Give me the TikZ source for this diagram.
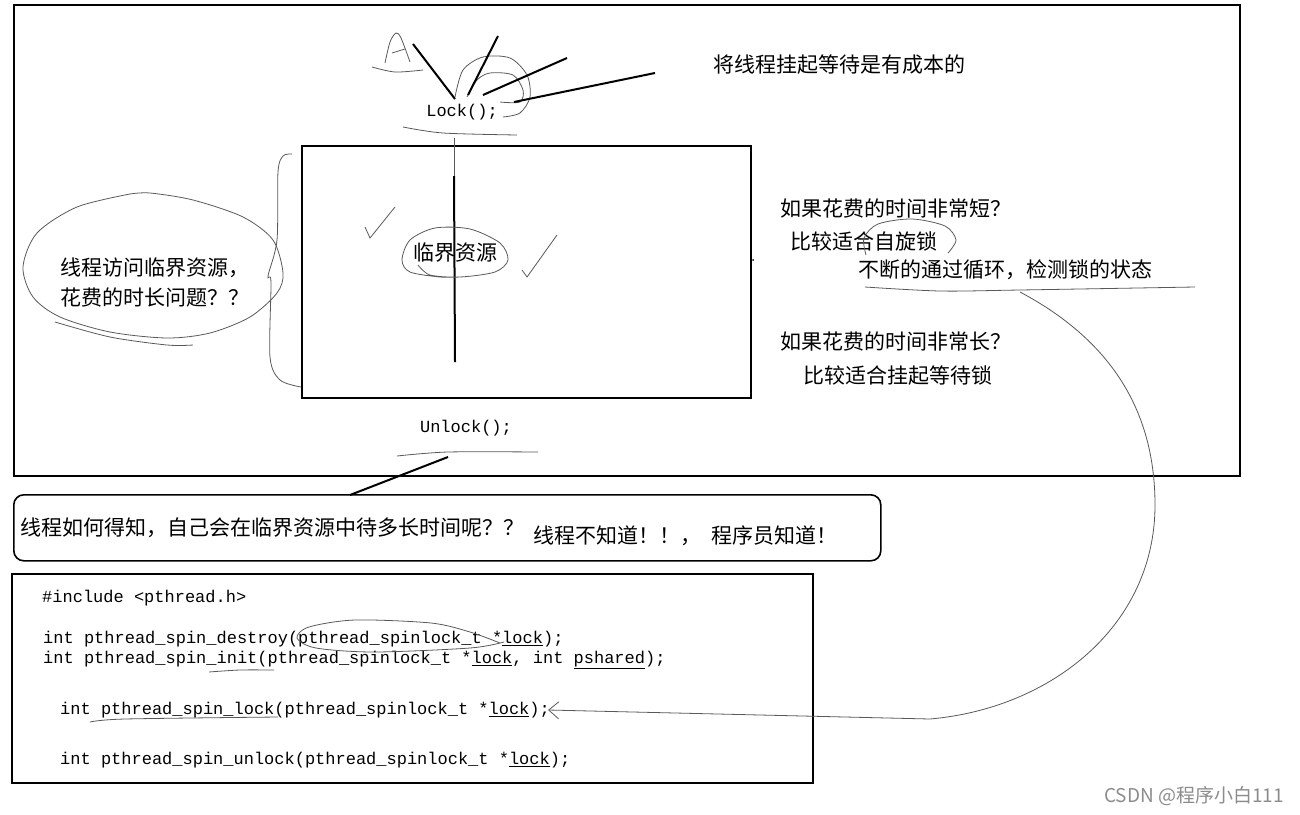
\documentclass[tikz,border=0pt]{standalone}
\usepackage{fontspec}
\setmainfont{Liberation Serif}
\newfontfamily\cjk{Noto Sans CJK SC}
\newfontfamily\codefont{Liberation Mono}
\usetikzlibrary{arrows.meta, positioning, calc}

\begin{document}
\begin{tikzpicture}[
    x=1pt, y=-1pt,
    frame/.style={rectangle, draw=black, line width=1.6pt, inner sep=0pt},
    resbox/.style={rectangle, draw=black, line width=2.2pt, inner sep=0pt},
    qbox/.style={rectangle, draw=black, line width=1.6pt, rounded corners=10pt, inner sep=0pt},
    cn/.style={font=\cjk\fontsize{21}{24}\selectfont, inner sep=0pt, anchor=west},
    code/.style={font=\codefont\fontsize{17}{20}\selectfont, inner sep=0pt, anchor=west},
    ink/.style={draw=black, line width=2pt},
    pen/.style={draw=black!65, line width=0.8pt},
    watermark/.style={font=\cjk\fontsize{19}{22}\selectfont, text=black!45, inner sep=0pt, anchor=east}
]
\useasboundingbox (0,0) rectangle (1300,814);

%% === BOXES ===
\node[frame, anchor=north west, minimum width=1226pt, minimum height=471pt] (outer) at (13,4) {};
\node[resbox, anchor=north west, minimum width=449pt, minimum height=252pt] (critical) at (301,145) {};
\node[qbox, anchor=north west, minimum width=867pt, minimum height=66pt] (question) at (13,494) {};
\node[frame, anchor=north west, minimum width=801pt, minimum height=209pt] (codebox) at (11,573) {};

%% === TOP: LOCK ===
\node[code, anchor=center] (lock) at (462,112) {Lock();};
\node[cn] (cost) at (713,65) {将线程挂起等待是有成本的};

%% scribbles round the lock
\draw[pen] plot[smooth] coordinates {(385,63) (390,42) (396,33) (401,38) (410,62)};
\draw[pen] (392,53) -- (405,49);
\draw[pen] plot[smooth] coordinates {(372,67) (395,72) (423,70)};
\draw[pen] plot[smooth] coordinates {(455,97) (463,70) (483,57) (510,58) (527,75) (530,97) (520,113) (503,117)};
\draw[pen] plot[smooth] coordinates {(467,97) (477,80) (490,73) (513,75) (523,90) (520,102) (500,102)};
\draw[pen] plot[smooth] coordinates {(403,127) (443,133) (517,135)};
\draw[ink] (413,44) -- (455,99);
\draw[ink] (498,36) -- (468,95);
\draw[ink] (567,58) -- (483,95);
\draw[ink] (655,73) -- (514,102);

%% === CRITICAL SECTION ===
\node[cn, anchor=center] (res) at (455,253) {临界资源};
\draw[pen] (454,138) -- (454,176);
\draw[ink] (454,176) -- (455,362);
\draw[pen] plot[smooth] coordinates {(418,265) (430,275) (460,277) (495,272) (508,260) (500,243) (470,229) (435,228) (410,240) (402,260) (410,272) (440,277) (460,277)};
\draw[pen] (365,227) -- (370,238) -- (395,207);
\draw[pen] (522,270) -- (527,277) -- (557,235);
\fill (753,260) circle (1);

%% === LEFT QUESTION ===
\node[cn] (ask1) at (60,268) {线程访问临界资源，};
\node[cn] (ask2) at (60,297) {花费的时长问题？？};
\draw[pen] plot[smooth] coordinates {(130,194) (77,207) (37,233) (23,267) (33,297) (60,317) (110,332) (167,338) (210,333) (250,317) (277,293) (283,273) (273,240) (243,217) (193,200) (150,193) (130,194)};
\draw[pen] plot[smooth] coordinates {(55,322) (110,337) (167,345) (193,345)};
\draw[pen] plot[smooth] coordinates {(292,154) (283,156) (278,172) (277,240) (268,276) (271,282) (270,357) (280,380) (301,387)};

%% === RIGHT NOTES ===
\node[cn] (short) at (780,208) {如果花费的时间非常短？};
\node[cn] (spin) at (790,241) {比较适合自旋锁};
\node[cn] (loop) at (858,270) {不断的通过循环，检测锁的状态};
\node[cn] (long) at (780,341) {如果花费的时间非常长？};
\node[cn] (wait) at (803,376) {比较适合挂起等待锁};
\draw[pen] plot[smooth] coordinates {(866,255) (864,238) (878,224) (912,219) (945,226) (956,240) (948,253)};
\draw[pen] plot[smooth] coordinates {(865,287) (940,291) (1020,290) (1195,287)};
\coordinate (spinmark) at (1020,292);

%% === UNLOCK ===
\node[code, anchor=center] (unlock) at (466,428) {Unlock();};
\draw[pen] plot[smooth] coordinates {(397,456) (448,452) (538,452)};
\coordinate (unltick) at (448,457);
\coordinate (qtop) at (350,495);
\draw[ink] (unltick) -- (qtop);

%% === QUESTION BOX ===
\node[cn] (how) at (20,528) {线程如何得知，自己会在临界资源中待多长时间呢？？};
\node[cn] (answer) at (533,536) {线程不知道！！，\hspace{0.5em}程序员知道！};

%% === CODE ===
\node[code] (inc) at (42,598) {\#include <pthread.h>};
\node[code] (destroy) at (43,639) {int pthread\_spin\_destroy(pthread\_spinlock\_t *\underline{lock});};
\node[code] (init) at (43,660) {int pthread\_spin\_init(pthread\_spinlock\_t *\underline{lock}, int \underline{pshared});};
\node[code] (lockline) at (60,710) {int pthread\_spin\_lock(pthread\_spinlock\_t *\underline{lock});};
\node[code] (unlockline) at (60,760) {int pthread\_spin\_unlock(pthread\_spinlock\_t *\underline{lock});};
\draw[pen] plot[smooth] coordinates {(500,643) (470,632) (431,623) (355,620) (309,627) (297,638) (316,648) (374,652) (470,648) (504,642)};
\draw[pen] plot[smooth] coordinates {(209,672) (240,670) (274,670)};
\draw[pen] plot[smooth] coordinates {(90,722) (125,719) (278,717)};

%% --- spin lock back to the call ---
\draw[pen, -{Straight Barb[length=10pt, width=17pt]}] (spinmark)
    to[out=-28, in=90] (1155,505)
    to[out=-90, in=5] (930,719)
    -- ([xshift=-2pt]lockline.east);

%% watermark
\node[watermark] (csdn) at (1284,796) {CSDN @程序小白111};

\end{tikzpicture}
\end{document}
